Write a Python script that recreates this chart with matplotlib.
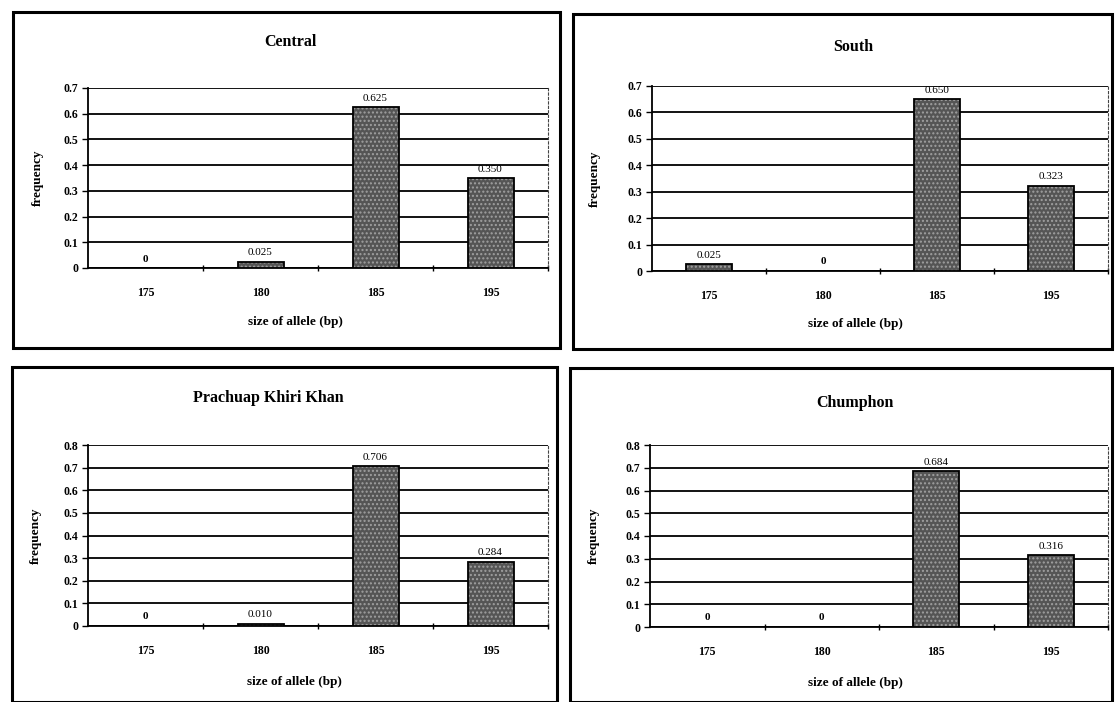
import matplotlib
matplotlib.use("Agg")
import matplotlib.pyplot as plt
from matplotlib.patches import Rectangle
import numpy as np

categories = ["175", "180", "185", "195"]
titles = ["Central", "South", "Prachuap Khiri Khan", "Chumphon"]
central = [0.0, 0.025, 0.625, 0.350]
south = [0.025, 0.0, 0.650, 0.323]
prachuap = [0.0, 0.010, 0.706, 0.284]
chumphon = [0.0, 0.0, 0.684, 0.316]
value_labels = [["0", "0.025", "0.625", "0.350"],
                ["0.025", "0", "0.650", "0.323"],
                ["0", "0.010", "0.706", "0.284"],
                ["0", "0", "0.684", "0.316"]]
ymaxes = [0.7, 0.7, 0.8, 0.8]
series = [central, south, prachuap, chumphon]

plt.rcParams['font.family'] = ['Liberation Serif', 'DejaVu Serif']

W, H = 1115, 702
fig = plt.figure(figsize=(W / 100, H / 100), dpi=100)
fig.patch.set_facecolor('white')

def fx(px):
    return px / W

def fy(py):
    return 1 - py / H

# panel frames (pixel boxes)
frames = [(13, 12, 560, 348), (573, 14, 1112, 349), (12, 367, 557, 702), (570, 368, 1112, 702)]
for (x0, y0, x1, y1) in frames:
    fig.patches.append(Rectangle((fx(x0), fy(y1)), fx(x1 - x0), (y1 - y0) / H,
                                 transform=fig.transFigure, fill=False,
                                 edgecolor='black', linewidth=2.2))

# plot areas (pixel coords: left, top, right, bottom)
areas = [(88, 88, 548, 268), (652, 86, 1108, 271), (88, 445, 548, 626), (650, 445, 1108, 627)]
title_xy = [(290, 42), (853, 47), (268, 398), (855, 403)]
xlabel_xy = [(295, 322), (855, 324), (294, 682), (855, 683)]
ylabel_x = [38, 595, 36, 594]

for i in range(4):
    l, t, r, b = areas[i]
    ax = fig.add_axes([fx(l), fy(b), fx(r - l), (b - t) / H])
    x = np.arange(len(categories))
    vals = series[i]
    ax.bar(x, vals, width=0.4, color='#555555', edgecolor='#a0a0a0', hatch='....',
           linewidth=0, zorder=3)
    ax.bar(x, vals, width=0.4, fill=False, edgecolor='black', linewidth=1.3, zorder=4)
    for xi, v, lab in zip(x, vals, value_labels[i]):
        ax.text(xi, v + ymaxes[i] * 0.025, lab, ha='center', va='bottom',
                fontsize=8, fontweight='bold' if v == 0 else 'normal', zorder=5)
    ax.set_xlim(-0.5, 3.5)
    ax.set_ylim(0, ymaxes[i])
    ax.set_yticks(np.arange(0, ymaxes[i] + 0.001, 0.1))
    ax.set_yticklabels(["0"] + [f"{v:.1f}" for v in np.arange(0.1, ymaxes[i] + 0.001, 0.1)],
                       fontsize=8.5, fontweight='bold')
    ax.yaxis.grid(True, color='black', linewidth=1.3, zorder=1)
    ax.set_axisbelow(True)
    ax.set_xticks([0.5, 1.5, 2.5, 3.5], minor=False)
    ax.set_xticklabels([])
    ax.set_xticks(x, minor=True)
    ax.set_xticklabels(categories, minor=True, fontsize=8.5, fontweight='bold')
    ax.tick_params(axis='x', which='minor', length=0, pad=14)
    ax.tick_params(axis='x', which='major', length=4, width=1, direction='inout')
    ax.tick_params(axis='y', length=4, width=1, direction='out', pad=3)
    ax.spines['left'].set_linewidth(1.3)
    ax.spines['bottom'].set_linewidth(1.3)
    ax.spines['top'].set_visible(False)
    ax.spines['right'].set_linestyle((0, (2, 2)))
    ax.spines['right'].set_linewidth(0.8)
    ax.spines['right'].set_color('#444444')
    ax.set_facecolor('none')
    tx, ty = title_xy[i]
    fig.text(fx(tx), fy(ty), titles[i], ha='center', va='center',
             fontsize=11.5, fontweight='bold')
    lx, ly = xlabel_xy[i]
    fig.text(fx(lx), fy(ly), "size of allele (bp)", ha='center', va='center',
             fontsize=9.5, fontweight='bold')
    fig.text(fx(ylabel_x[i]), fy((t + b) / 2), "frequency", ha='center', va='center',
             rotation=90, fontsize=9.5, fontweight='bold')

fig.savefig("out.png", dpi=100, facecolor='white')
